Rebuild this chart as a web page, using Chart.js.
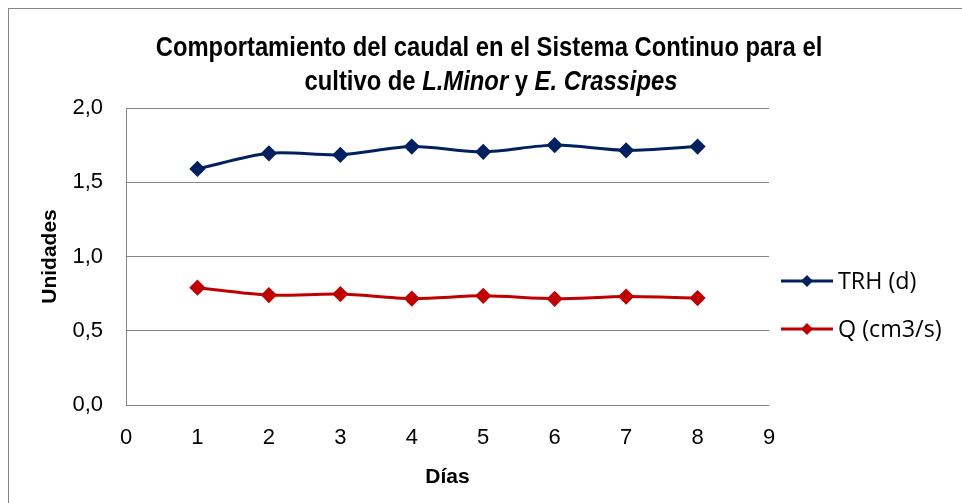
<!DOCTYPE html>
<html>
<head>
<meta charset="utf-8">
<script src="https://cdn.jsdelivr.net/npm/chart.js@4.4.1/dist/chart.umd.min.js"></script>
<style>
html,body{margin:0;padding:0;background:#fff;}
canvas{display:block;}
</style>
</head>
<body>
<canvas id="c" width="962" height="503"></canvas>
<script>
const days = [1, 2, 3, 4, 5, 6, 7, 8];
const trh = [1.59, 1.695, 1.685, 1.74, 1.705, 1.75, 1.715, 1.74];
const caudal = [0.79, 0.74, 0.747, 0.717, 0.735, 0.715, 0.73, 0.72];
const seriesNames = ['TRH (d)', 'Q (cm3/s)'];
const titleLine1 = [['Comportamiento del caudal en el Sistema Continuo para el', false]];
const titleLine2 = [['cultivo de ', false], ['L.Minor', true], [' y ', false], ['E. Crassipes', true]];
const yTitle = 'Unidades';
const xTitle = 'Días';

const NARROW = '"Liberation Sans", Arial, sans-serif';
const LEGFONT = '"Open Sans", "Noto Sans", sans-serif';
const GRID = '#868686';
const BLUE = '#002060';
const RED = '#C00000';

const frame = {
  id: 'frame',
  beforeDraw(chart) {
    const ctx = chart.ctx;
    ctx.save();
    ctx.fillStyle = '#fff';
    ctx.fillRect(0, 0, chart.width, chart.height);
    ctx.strokeStyle = GRID;
    ctx.lineWidth = 1;
    ctx.strokeRect(8.5, 8.5, 2000, 2000);
    ctx.restore();
  }
};

// draws a line of mixed upright/italic bold text, horizontally condensed
function drawMixed(ctx, parts, cx, y, size, sx) {
  let total = 0;
  const widths = parts.map(([t, it]) => {
    ctx.font = (it ? 'italic ' : '') + 'bold ' + size + 'px ' + NARROW;
    const w = ctx.measureText(t).width;
    total += w;
    return w;
  });
  ctx.save();
  ctx.translate(cx, y);
  ctx.scale(sx, 1);
  let x = -total / 2;
  parts.forEach(([t, it], i) => {
    ctx.font = (it ? 'italic ' : '') + 'bold ' + size + 'px ' + NARROW;
    ctx.fillText(t, x, 0);
    x += widths[i];
  });
  ctx.restore();
}

const titlePlugin = {
  id: 'mixedTitle',
  afterDraw(chart) {
    const ctx = chart.ctx;
    ctx.save();
    ctx.fillStyle = '#000';
    ctx.textBaseline = 'alphabetic';
    ctx.textAlign = 'left';
    drawMixed(ctx, titleLine1, 489, 56, 28, 0.85);
    drawMixed(ctx, titleLine2, 491, 90, 28, 0.85);
    ctx.restore();
  }
};

const legendPlugin = {
  id: 'sideLegend',
  afterDraw(chart) {
    const ctx = chart.ctx;
    const ys = [281, 329];
    ctx.save();
    chart.data.datasets.forEach((ds, i) => {
      const y = ys[i];
      ctx.strokeStyle = ds.borderColor;
      ctx.lineWidth = 3;
      ctx.beginPath();
      ctx.moveTo(781, y);
      ctx.lineTo(833, y);
      ctx.stroke();
      ctx.fillStyle = ds.borderColor;
      ctx.beginPath();
      ctx.moveTo(807, y - 6);
      ctx.lineTo(813, y);
      ctx.lineTo(807, y + 6);
      ctx.lineTo(801, y);
      ctx.closePath();
      ctx.fill();
      ctx.fillStyle = '#000';
      ctx.font = '23.3px ' + LEGFONT;
      ctx.textBaseline = 'middle';
      ctx.textAlign = 'left';
      ctx.fillText(ds.label, 838, y + 1);
    });
    ctx.restore();
  }
};

new Chart(document.getElementById('c'), {
  type: 'line',
  data: {
    datasets: [
      {
        label: seriesNames[0],
        data: days.map((d, i) => ({x: d, y: trh[i]})),
        borderColor: BLUE, backgroundColor: BLUE,
        borderWidth: 3, pointStyle: 'rectRot', pointRadius: 6, pointHoverRadius: 6,
        tension: 0.3, fill: false
      },
      {
        label: seriesNames[1],
        data: days.map((d, i) => ({x: d, y: caudal[i]})),
        borderColor: RED, backgroundColor: RED,
        borderWidth: 3, pointStyle: 'rectRot', pointRadius: 6, pointHoverRadius: 6,
        tension: 0.3, fill: false
      }
    ]
  },
  options: {
    responsive: false,
    animation: false,
    devicePixelRatio: 1,
    layout: {padding: {left: 0, top: 108, right: 193, bottom: 0}},
    plugins: {legend: {display: false}, title: {display: false}, tooltip: {enabled: false}},
    scales: {
      x: {
        type: 'linear', min: 0, max: 9,
        ticks: {stepSize: 1, color: '#000', padding: 20, font: {family: NARROW, size: 22}, maxRotation: 0, autoSkip: false},
        grid: {display: false, drawTicks: false},
        border: {display: false},
        title: {display: true, text: xTitle, color: '#000', font: {family: NARROW, size: 21, weight: 'bold'}, padding: {bottom: 13, top: 0}},
        afterFit(s) { s.height = 98; }
      },
      y: {
        min: 0, max: 2,
        ticks: {stepSize: 0.5, color: '#000', padding: 23, font: {family: NARROW, size: 22},
          callback: v => v.toFixed(1).replace('.', ',')},
        grid: {color: GRID, lineWidth: 1, drawTicks: false},
        border: {display: true, color: GRID, width: 1},
        title: {display: true, text: yTitle, color: '#000', font: {family: NARROW, size: 21, weight: 'bold'}, padding: {top: 38, bottom: 0}},
        afterFit(s) { s.width = 126; }
      }
    }
  },
  plugins: [frame, titlePlugin, legendPlugin]
});
</script>
</body>
</html>
